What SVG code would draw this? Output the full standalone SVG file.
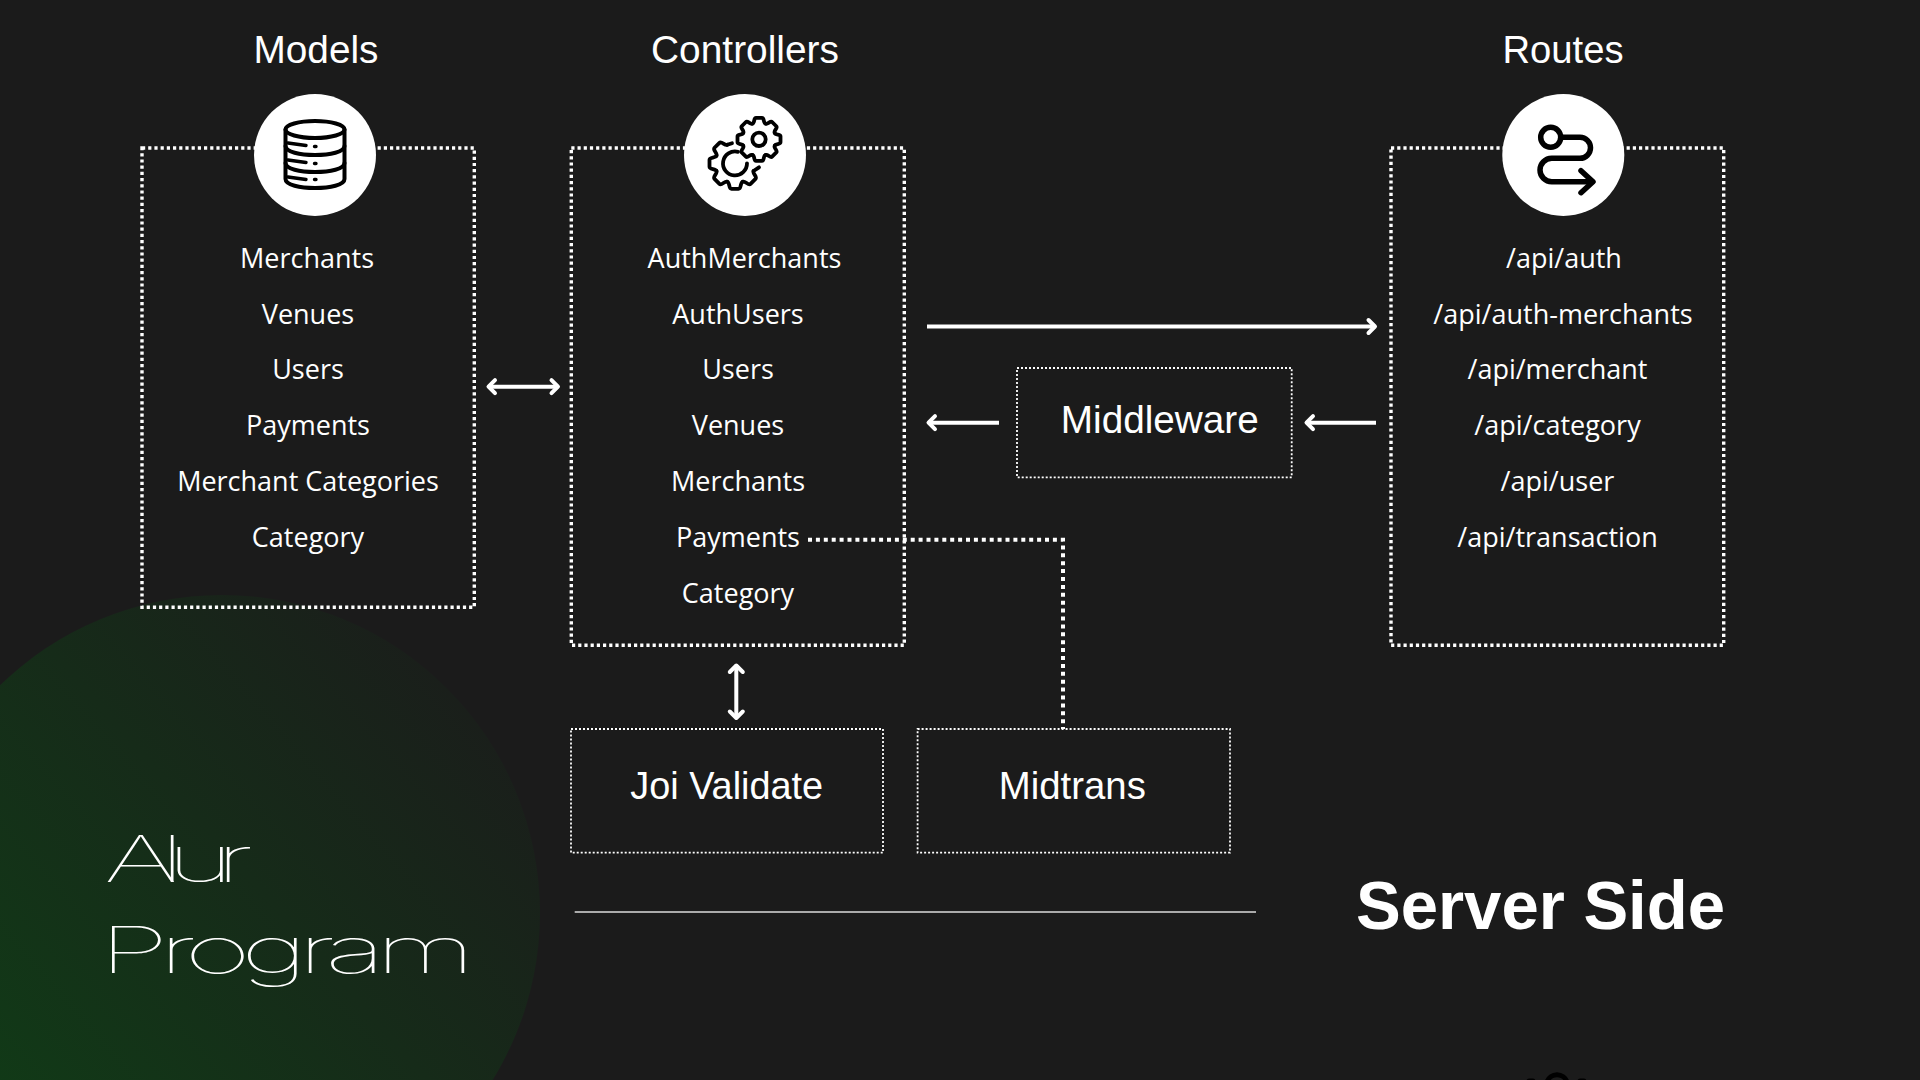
<svg xmlns="http://www.w3.org/2000/svg" xmlns:xlink="http://www.w3.org/1999/xlink" width="1920" height="1080" viewBox="0 0 1920 1080">
<style>
text{font-family:"Liberation Sans",Arial,sans-serif;fill:#fff}
.head{font-size:39px;text-anchor:middle}
.item{font-size:27px;text-anchor:middle;font-family:"Open Sans","Noto Sans",sans-serif;font-weight:400}
.box{fill:none;stroke:#fff;stroke-width:3.400;stroke-dasharray:3.200 3}
.link{fill:none;stroke:#fff;stroke-width:4;stroke-dasharray:4 3.900}
.thin{fill:none;stroke:#fff;stroke-width:1.800;stroke-dasharray:2 2}
.arrow{fill:none;stroke:#fff;stroke-width:4}
.ico{fill:none;stroke:#000;stroke-linecap:round;stroke-linejoin:round}
</style>
<defs>
<linearGradient id="g" x1="0.15" y1="0.8" x2="0.95" y2="0.1">
<stop offset="0" stop-color="#113a17"/><stop offset="1" stop-color="#1b1c1b"/>
</linearGradient>
<marker id="h" markerUnits="userSpaceOnUse" markerWidth="22" markerHeight="22" viewBox="-11 -11 22 22" refX="0" refY="0" orient="auto-start-reverse">
<path d="M-6.500-6.500L0 0L-6.500 6.500" fill="none" stroke="#fff" stroke-width="4" stroke-linecap="round" stroke-linejoin="round"/>
</marker>
<path id="t1" d="M-6.500-15.700C-4-16.500-5.500-21.500-3-21.500H3C5.500-21.500 4-16.500 6.500-15.700"/>
<path id="t2" d="M-7.700-18.500C-5-19.500-6.500-25.500-3.500-25.500H3.500C6.500-25.500 5-19.500 7.700-18.500"/>
</defs>
<rect width="1920" height="1080" fill="#1b1b1b"/>
<circle id="blob" cx="222" cy="913" r="318" fill="url(#g)"/>
<path id="cut-icon" d="M1547 1082A10.500 10.500 0 0 1 1567 1082M1529 1081H1533M1580 1081H1584" fill="none" stroke="#000" stroke-width="5" stroke-linecap="round"/>

<g id="connectors">
<line class="arrow" x1="927" y1="326.500" x2="1375" y2="326.500" marker-end="url(#h)"/>
<line class="arrow" x1="999" y1="422.700" x2="928.500" y2="422.700" marker-end="url(#h)"/>
<line class="arrow" x1="1376" y1="422.700" x2="1306.500" y2="422.700" marker-end="url(#h)"/>
<line class="arrow" x1="488.500" y1="386.700" x2="558" y2="386.700" marker-start="url(#h)" marker-end="url(#h)"/>
<line class="arrow" x1="736.300" y1="665.500" x2="736.300" y2="718" marker-start="url(#h)" marker-end="url(#h)"/>
<path class="link" d="M808 539.700H1063V729"/>
<line x1="574.700" y1="912" x2="1256" y2="912" stroke="#ddd" stroke-width="1.500"/>
</g>

<g id="models">
<rect class="box" x="142" y="148" width="332.300" height="459.300"/>
<text class="head" x="316" y="62.700" textLength="125" lengthAdjust="spacingAndGlyphs">Models</text>
<circle cx="315" cy="155" r="61" fill="#fff"/>
<g class="ico" stroke-width="4">
<ellipse cx="315" cy="129.500" rx="29.500" ry="8.500"/>
<path d="M285.500 129.500V179C285.500 185 300 188 315 188S344.500 185 344.500 179V129.500"/>
<path d="M285.500 146C285.500 152 300 155 315 155S344.500 152 344.500 146M285.500 163C285.500 169 300 172 315 172S344.500 169 344.500 163"/>
<path d="M288 143L306 145.500M288 160L306 162.500M288 177L306 179.500M314.500 146.500h1.500M314.500 163.500h1.500M314.500 179.500h1.500" stroke-width="3.400"/>
</g>
<text class="item" x="307" y="267.700">Merchants</text>
<text class="item" x="308" y="323.700">Venues</text>
<text class="item" x="308" y="379.300">Users</text>
<text class="item" x="308" y="435.200">Payments</text>
<text class="item" x="308" y="490.700">Merchant Categories</text>
<text class="item" x="308" y="546.700">Category</text>
</g>

<g id="controllers">
<rect class="box" x="571.300" y="148" width="333" height="497.300"/>
<text class="head" x="745" y="62.700" textLength="188" lengthAdjust="spacingAndGlyphs">Controllers</text>
<circle cx="745" cy="155" r="61" fill="#fff"/>
<g class="ico" stroke-width="3.800">
<g transform="translate(759 139.300)">
<circle r="6.700"/>
<use xlink:href="#t1"/><use xlink:href="#t1" transform="rotate(45)"/><use xlink:href="#t1" transform="rotate(90)"/><use xlink:href="#t1" transform="rotate(135)"/><use xlink:href="#t1" transform="rotate(180)"/><use xlink:href="#t1" transform="rotate(225)"/><use xlink:href="#t1" transform="rotate(270)"/><use xlink:href="#t1" transform="rotate(315)"/>
</g>
<g transform="translate(735 163.300)">
<path d="M3-11.500A12 12 0 1 0 12 0"/>
<use xlink:href="#t2" transform="rotate(-45)"/><use xlink:href="#t2" transform="rotate(-90)"/><use xlink:href="#t2" transform="rotate(-135)"/><use xlink:href="#t2" transform="rotate(180)"/><use xlink:href="#t2" transform="rotate(135)"/>
<path d="M-7.700-18.500L-3-20M18.500 7.700L24 4"/>
</g>
</g>
<text class="item" x="744.500" y="267.700">AuthMerchants</text>
<text class="item" x="738" y="323.700">AuthUsers</text>
<text class="item" x="738" y="379.300">Users</text>
<text class="item" x="738" y="435.200">Venues</text>
<text class="item" x="738" y="490.700">Merchants</text>
<text class="item" x="738" y="546.700">Payments</text>
<text class="item" x="738" y="602.700">Category</text>
</g>

<g id="routes">
<rect class="box" x="1391" y="148" width="332.700" height="497.300"/>
<text class="head" x="1563" y="62.700" textLength="121" lengthAdjust="spacingAndGlyphs">Routes</text>
<circle cx="1563.300" cy="155" r="61" fill="#fff"/>
<g class="ico" stroke-width="5.500">
<circle cx="1550.700" cy="137.300" r="10"/>
<path d="M1561 137.300H1580A10.500 10.500 0 0 1 1580 158.300H1551.700A11.700 11.700 0 0 0 1551.700 181.700H1592"/>
<path d="M1581 170.700L1593 181.700L1581 192.700"/>
</g>
<text class="item" x="1564" y="267.700">/api/auth</text>
<text class="item" x="1563" y="323.700">/api/auth-merchants</text>
<text class="item" x="1557.500" y="379.300">/api/merchant</text>
<text class="item" x="1557.500" y="435.200">/api/category</text>
<text class="item" x="1557.500" y="490.700">/api/user</text>
<text class="item" x="1557.500" y="546.700">/api/transaction</text>
</g>

<g id="middleware">
<rect class="thin" x="1017" y="368" width="274.700" height="109.300"/>
<text class="head" x="1159.800" y="432.700" textLength="198" lengthAdjust="spacingAndGlyphs">Middleware</text>
</g>
<g id="joi">
<rect class="thin" x="571" y="729" width="312" height="123.700"/>
<text class="head" x="726.700" y="799" textLength="193" lengthAdjust="spacingAndGlyphs">Joi Validate</text>
</g>
<g id="midtrans">
<rect class="thin" x="917.600" y="729" width="312.400" height="123.700"/>
<text class="head" x="1072.300" y="799" textLength="147" lengthAdjust="spacingAndGlyphs">Midtrans</text>
</g>

<text id="title1" transform="translate(104 881.700) scale(1.8 1)" style="font-family:Inter,'Liberation Sans',sans-serif;font-weight:100;font-size:64px;letter-spacing:-10px">Alur</text>
<text id="title2" transform="translate(99 973) scale(1.8 1)" style="font-family:Inter,'Liberation Sans',sans-serif;font-weight:100;font-size:64px;letter-spacing:-5.600px">Program</text>
<text id="side" x="1356" y="929" textLength="369" lengthAdjust="spacingAndGlyphs" style="font-size:68px;font-weight:700">Server Side</text>
</svg>
